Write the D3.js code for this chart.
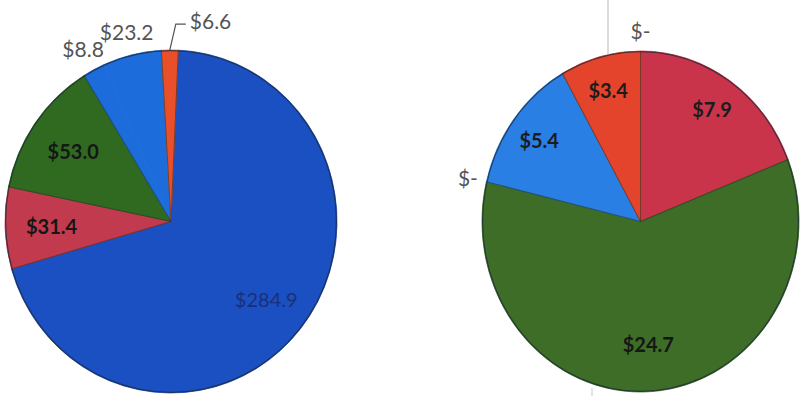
<!DOCTYPE html>
<html>
<head>
<meta charset="utf-8">
<script src="https://cdn.jsdelivr.net/npm/d3@7"></script>
<style>
  html, body { margin: 0; padding: 0; background: #ffffff; }
  svg { display: block; }
</style>
</head>
<body>
<svg id="chart" width="801" height="396"></svg>
<script>
// ---- data ----
const leftCategories  = ["A", "B", "C", "D", "E", "F"];
const leftValues      = [284.9, 31.4, 53.0, 8.8, 23.2, 6.6];
const leftLabels      = ["$284.9", "$31.4", "$53.0", "$8.8", "$23.2", "$6.6"];
const leftColors      = ["#1b50c2", "#c13a4d", "#2f6a20", "#1d6cdc", "#1d6cdc", "#e9502a"];

const rightCategories = ["A", "B", "C", "D", "E", "F"];
const rightValues     = [7.9, 24.7, 0, 5.4, 3.4, 0];
const rightLabels     = ["$7.9", "$24.7", "$-", "$5.4", "$3.4", "$-"];
const rightColors     = ["#c9344a", "#3e6d27", "#3e6d27", "#2a7fe4", "#e4442b", "#e4442b"];

const svg = d3.select("#chart");
const deg = Math.PI / 180;

function drawPie(opts) {
  const { cx, cy, rx, ry, start, values, labels, colors, labelStyle } = opts;
  const k = ry / rx;
  const pie = d3.pie().sort(null).value(d => d).startAngle(start).endAngle(start + 2 * Math.PI);
  const arcs = pie(values);
  const arc = d3.arc().innerRadius(0).outerRadius(rx);

  const g = svg.append("g").attr("transform", `translate(${cx},${cy}) scale(1,${k})`);
  g.selectAll("path.slice").data(arcs).join("path")
    .attr("class", "slice")
    .attr("d", arc)
    .attr("fill", (d, i) => colors[i])
    .attr("stroke", (d, i) => colors[i])
    .attr("stroke-width", 0.8);
  // outer rim
  g.append("path")
    .attr("d", d3.arc().innerRadius(rx - 1.2).outerRadius(rx)({ startAngle: 0, endAngle: 2 * Math.PI }))
    .attr("fill", "#1d2a3a").attr("opacity", 0.75);
  // slice separators (only between distinct colours)
  arcs.forEach((a, i) => {
    const prev = arcs[(i - 1 + arcs.length) % arcs.length];
    if (colors[i] === colors[(i - 1 + arcs.length) % arcs.length]) return;
    if (a.endAngle - a.startAngle === 0 && prev.endAngle - prev.startAngle === 0) return;
    g.append("line")
      .attr("x1", 0).attr("y1", 0)
      .attr("x2", rx * Math.sin(a.startAngle)).attr("y2", -rx * Math.cos(a.startAngle))
      .attr("stroke", "#22301f").attr("stroke-opacity", 0.55).attr("stroke-width", 1);
  });

  const lg = svg.append("g").attr("transform", `translate(${cx},${cy})`);
  arcs.forEach((a, i) => {
    const st = labelStyle(i, a);
    const mid = (a.startAngle + a.endAngle) / 2;
    const r = rx * st.r;
    let x = r * Math.sin(mid), y = -r * Math.cos(mid) * k;
    if (st.leader) {
      const x0 = rx * Math.sin(mid), y0 = -rx * Math.cos(mid) * k;
      const x1 = x0 + 6, y1 = -(rx + 25) * k;
      const x2 = x1 + 10;
      lg.append("polyline")
        .attr("points", `${x0},${y0} ${x1},${y1} ${x2},${y1}`)
        .attr("fill", "none").attr("stroke", "#555").attr("stroke-width", 1.2);
      x = x2 + 4; y = y1 - 4;
    }
    lg.append("text")
      .attr("x", x).attr("y", y)
      .attr("text-anchor", st.leader ? "start" : "middle")
      .attr("dominant-baseline", "central")
      .attr("font-family", "Lato, 'Open Sans', sans-serif")
      .attr("font-size", st.size)
      .attr("font-weight", st.weight)
      .attr("fill", st.color)
      .text(labels[i]);
  });
}

// left pie
drawPie({
  cx: 171, cy: 221.5, rx: 166, ry: 171.5,
  start: 2.5 * deg,
  values: leftValues, labels: leftLabels, colors: leftColors,
  labelStyle: (i) => {
    if (i === 0) return { r: 0.73, size: 20, weight: 400, color: "#1a2f7a" };
    if (i === 1 || i === 2) return { r: 0.72, size: 20, weight: 700, color: "#161616" };
    if (i === 5) return { r: 1.0, size: 21, weight: 400, color: "#555555", leader: true };
    return { r: 1.14, size: 21, weight: 400, color: "#555555" };
  }
});

// right pie
drawPie({
  cx: 640.5, cy: 221.5, rx: 158.5, ry: 170.5,
  start: 0,
  values: rightValues, labels: rightLabels, colors: rightColors,
  labelStyle: (i, a) => {
    if (a.endAngle - a.startAngle === 0) return { r: 1.12, size: 21, weight: 400, color: "#555555" };
    if (i === 1) return { r: 0.72, size: 20, weight: 700, color: "#161616" };
    return { r: 0.8, size: 20, weight: 700, color: "#1c1c1c" };
  }
});

// scan artefacts: faint vertical rules
svg.append("line").attr("x1", 608).attr("x2", 608).attr("y1", 0).attr("y2", 55)
  .attr("stroke", "#b8b8b8").attr("stroke-width", 1);
svg.append("line").attr("x1", 592).attr("x2", 592).attr("y1", 388).attr("y2", 396)
  .attr("stroke", "#c8c8c8").attr("stroke-width", 1);
</script>
</body>
</html>
